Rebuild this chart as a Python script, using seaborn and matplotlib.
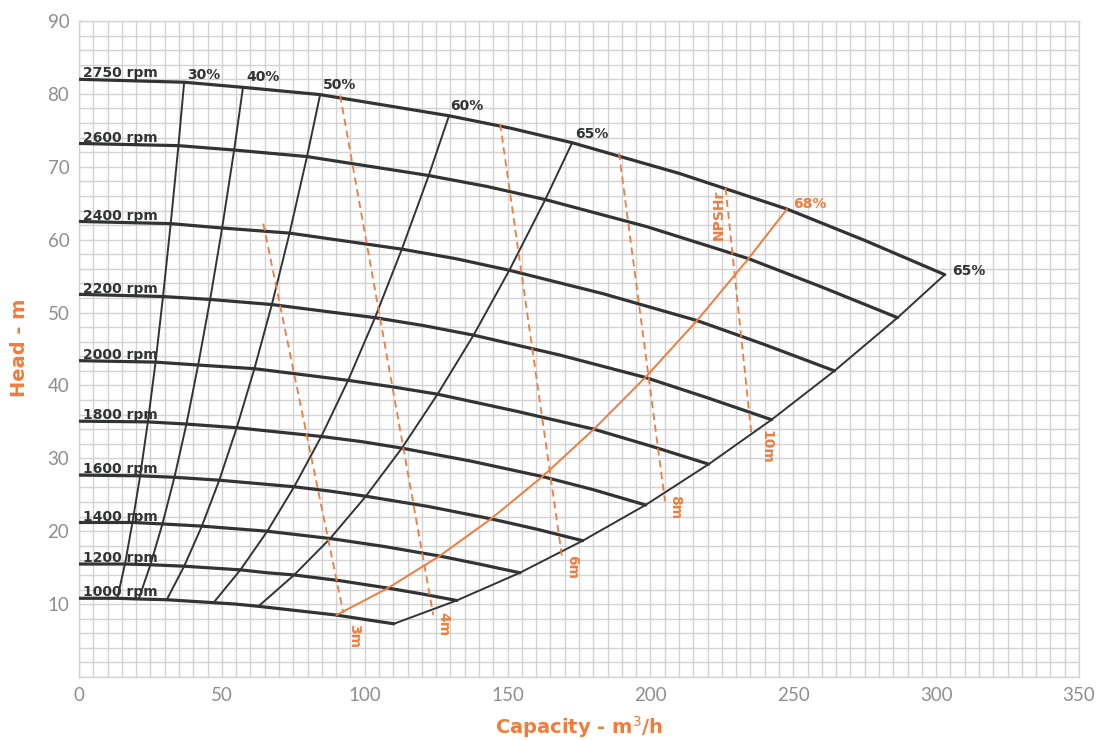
import matplotlib
matplotlib.use("Agg")
import matplotlib.pyplot as plt
import numpy as np
import pandas as pd
import seaborn as sns

# Pump speed curves (head vs capacity), one per shaft speed
rpm = [2750, 2600, 2400, 2200, 2000, 1800, 1600, 1400, 1200, 1000]
shutoff_head = [82.0, 73.2, 62.5, 52.5, 43.4, 35.1, 27.7, 21.2, 15.5, 10.8]

# Iso-efficiency curves: capacity / head where they cross each speed curve
eff_30_q = [36.8, 34.8, 32.1, 29.4, 26.8, 24.1, 21.4, 18.7, 16.1, 13.4]
eff_30_h = [81.6, 72.9, 62.2, 52.2, 43.2, 35.0, 27.6, 21.2, 15.5, 10.8]
eff_40_q = [57.4, 54.3, 50.1, 45.9, 41.7, 37.6, 33.4, 29.2, 25.0, 20.9]
eff_40_h = [80.9, 72.3, 61.6, 51.8, 42.8, 34.7, 27.4, 21.0, 15.4, 10.7]
eff_50_q = [84.4, 79.8, 73.7, 67.5, 61.4, 55.2, 49.1, 43.0, 36.8, 30.7]
eff_50_h = [79.9, 71.4, 60.9, 51.1, 42.3, 34.2, 27.0, 20.7, 15.2, 10.6]
eff_60_q = [129.5, 122.4, 113.0, 103.6, 94.2, 84.8, 75.3, 65.9, 56.5, 47.1]
eff_60_h = [77.0, 68.8, 58.7, 49.3, 40.7, 33.0, 26.1, 20.0, 14.7, 10.2]
eff_65_q = [172.6, 163.2, 150.6, 138.1, 125.5, 113.0, 100.4, 87.9, 75.3, 62.8]
eff_65_h = [73.3, 65.5, 55.8, 46.9, 38.8, 31.4, 24.8, 19.0, 14.0, 9.7]
eff_68_q = [247.8, 234.3, 216.3, 198.2, 180.2, 162.2, 144.2, 126.2, 108.1, 90.1]
eff_68_h = [64.2, 57.4, 48.9, 41.1, 34.0, 27.5, 21.7, 16.6, 12.2, 8.5]
# End of each speed curve (65 % efficiency limit on the right)
end_q = [303.0, 286.5, 264.4, 242.4, 220.4, 198.3, 176.3, 154.3, 132.2, 110.2]
end_h = [55.2, 49.3, 42.0, 35.3, 29.2, 23.6, 18.7, 14.3, 10.5, 7.3]

# Extra points along each speed curve between the efficiency crossings
mid_a_q = [151.0, 142.8, 131.8, 120.8, 109.8, 98.8, 87.9, 76.9, 65.9, 54.9]
mid_a_h = [75.3, 67.3, 57.4, 48.2, 39.8, 32.3, 25.5, 19.5, 14.3, 10.0]
mid_b_q = [210.0, 198.6, 183.3, 168.0, 152.7, 137.4, 122.2, 106.9, 91.6, 76.4]
mid_b_h = [69.1, 61.8, 52.6, 44.2, 36.5, 29.6, 23.4, 17.9, 13.2, 9.1]
mid_c_q = [275.0, 260.0, 240.0, 220.0, 200.0, 180.0, 160.0, 140.0, 120.0, 100.0]
mid_c_h = [59.9, 53.5, 45.6, 38.3, 31.7, 25.7, 20.3, 15.5, 11.4, 7.9]

# NPSHr lines (top and bottom end points)
npsh_labels = ["3m", "4m", "6m", "8m", "10m"]
npsh_top_q = [64.5, 91.4, 147.4, 189.0, 226.3]
npsh_top_h = [62.2, 79.8, 75.9, 71.9, 67.1]
npsh_bot_q = [92.5, 124.0, 169.2, 205.1, 235.4]
npsh_bot_h = [8.8, 8.5, 16.1, 24.1, 33.1]

x_ticks = [0, 50, 100, 150, 200, 250, 300, 350]
y_ticks = [10, 20, 30, 40, 50, 60, 70, 80, 90]

DARK = "#323434"
ORANGE = "#f37a3a"
GRID = "#d2d2d2"
TICK = "#8e8e8e"

sns.set_theme(style="white")
plt.rcParams["font.family"] = ["DejaVu Sans"]

fig = plt.figure(figsize=(10.99, 7.40), dpi=100)
ax = fig.add_axes([79 / 1099, 1 - 677 / 740, 1000 / 1099, 656 / 740])

# grid
ax.set_xlim(0, 350)
ax.set_ylim(0, 90)
ax.set_xticks(x_ticks)
ax.set_yticks(y_ticks)
ax.set_xticks(np.arange(0, 351, 5), minor=True)
ax.set_yticks(np.arange(0, 91, 2), minor=True)
ax.grid(which="both", color=GRID, lw=1.0)
ax.set_axisbelow(True)
ax.tick_params(which="both", length=0)
ax.tick_params(axis="both", labelsize=13.5, labelcolor=TICK, pad=7)
for lab in ax.get_xticklabels() + ax.get_yticklabels():
    lab.set_fontfamily(["Lato", "DejaVu Sans"])
    lab.set_fontweight("normal")
for s in ax.spines.values():
    s.set_color(GRID)
    s.set_linewidth(1.0)

# points of every speed curve ordered by capacity
speed_q = [eff_30_q, eff_40_q, eff_50_q, eff_60_q, mid_a_q, eff_65_q,
           mid_b_q, eff_68_q, mid_c_q, end_q]
speed_h = [eff_30_h, eff_40_h, eff_50_h, eff_60_h, mid_a_h, eff_65_h,
           mid_b_h, eff_68_h, mid_c_h, end_h]

rows = []
for i, n in enumerate(rpm):
    rows.append((n, 0.0, shutoff_head[i]))
    for qs, hs in zip(speed_q, speed_h):
        rows.append((n, qs[i], hs[i]))
speed_df = pd.DataFrame(rows, columns=["rpm", "q", "h"])
sns.lineplot(data=speed_df, x="q", y="h", units="rpm", estimator=None,
             sort=False, color=DARK, lw=2.3, ax=ax, zorder=4)

# dark iso-efficiency curves and the right-hand limit
eff_q = [eff_30_q, eff_40_q, eff_50_q, eff_60_q, eff_65_q, end_q]
eff_h = [eff_30_h, eff_40_h, eff_50_h, eff_60_h, eff_65_h, end_h]
rows = []
for k, (qs, hs) in enumerate(zip(eff_q, eff_h)):
    for q, h in zip(qs, hs):
        rows.append((k, q, h))
eff_df = pd.DataFrame(rows, columns=["curve", "q", "h"])
sns.lineplot(data=eff_df, x="q", y="h", units="curve", estimator=None,
             sort=False, color=DARK, lw=1.4, ax=ax, zorder=3)

# best-efficiency curve (68 %)
best_df = pd.DataFrame({"q": eff_68_q, "h": eff_68_h})
sns.lineplot(data=best_df, x="q", y="h", estimator=None, sort=False,
             color=ORANGE, lw=1.4, ax=ax, zorder=5)

# NPSHr dashed lines
rows = []
for j in range(len(npsh_labels)):
    rows.append((j, npsh_top_q[j], npsh_top_h[j]))
    rows.append((j, npsh_bot_q[j], npsh_bot_h[j]))
npsh_df = pd.DataFrame(rows, columns=["line", "q", "h"])
sns.lineplot(data=npsh_df, x="q", y="h", units="line", estimator=None,
             sort=False, color=ORANGE, lw=1.3, linestyle=(0, (4, 2.6)),
             ax=ax, zorder=5)

ax.set_xlabel("")
ax.set_ylabel("")

# speed labels
for n, h in zip(rpm, shutoff_head):
    ax.text(1.5, h + 0.25, f"{n} rpm", fontsize=10, fontweight="bold",
            color=DARK, ha="left", va="baseline", zorder=6)

# efficiency labels
eff_text = [("30%", 37.8, 82.1, DARK), ("40%", 58.5, 81.8, DARK),
            ("50%", 85.4, 80.7, DARK), ("60%", 130.0, 77.8, DARK),
            ("65%", 173.6, 74.0, DARK), ("68%", 249.8, 64.4, ORANGE),
            ("65%", 305.6, 55.2, DARK)]
for t, x, y, c in eff_text:
    ax.text(x, y, t, fontsize=10, fontweight="bold", color=c,
            ha="left", va="baseline", zorder=6)

# NPSHr labels
npsh_lab_pos = [(96.4, 5.6), (127.4, 7.2), (172.7, 15.1), (208.6, 23.3), (240.5, 31.6)]
for t, (x, y) in zip(npsh_labels, npsh_lab_pos):
    ax.text(x, y, t, fontsize=10, fontweight="bold", color=ORANGE,
            rotation=-90, ha="center", va="center", zorder=6)
ax.text(223.8, 63.4, "NPSHr", fontsize=10, fontweight="bold", color=ORANGE,
        rotation=90, ha="center", va="center", zorder=6)

# axis titles
fig.text(19.5 / 1099, 1 - 348 / 740, "Head - m", rotation=90, fontsize=14,
         fontweight="bold", color=ORANGE, ha="center", va="center")
fig.text(579 / 1099, 1 - 727 / 740, "Capacity - m$^3$/h", fontsize=14,
         fontweight="bold", color=ORANGE, ha="center", va="center")

fig.savefig("out.png", dpi=100, facecolor="white")
